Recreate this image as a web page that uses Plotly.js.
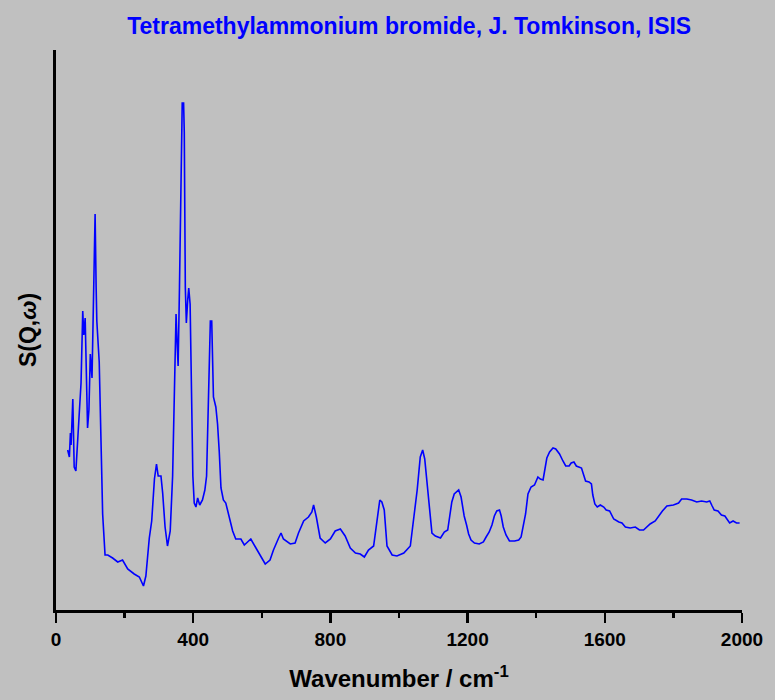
<!DOCTYPE html>
<html>
<head>
<meta charset="utf-8">
<script src="https://cdn.plot.ly/plotly-3.0.1.min.js"></script>
<style>
  html, body { margin: 0; padding: 0; background: #c0c0c0; }
  #plot { width: 775px; height: 700px; }
</style>
</head>
<body>
<div id="plot"></div>
<script>
// Wavenumber (cm^-1) and intensity (arbitrary units)
const lowWavenumber = [34, 39, 42, 44, 49, 53, 58, 63, 68, 73, 78, 81, 85, 88, 92, 96, 100, 105, 110, 114, 117, 119, 126, 131, 136, 143, 151, 165, 180, 194, 209, 228, 243, 255, 262, 272, 279, 287, 293, 298, 306, 311, 318, 325, 333, 340, 345, 350, 353, 356, 360, 364, 368, 372, 374, 377, 380, 384, 387, 391, 395, 399, 403, 408, 413, 419, 427, 434, 439, 442, 446, 450, 454, 456, 459, 466, 471, 476, 481, 488, 495, 505, 515, 524, 539, 549, 568, 583, 597];
const lowIntensity = [160, 153, 177, 165, 211, 143, 139, 165, 196, 227, 299, 275, 292, 234, 182, 200, 256, 232, 323, 396, 323, 289, 248, 169, 96, 55, 55, 52, 48, 50, 41, 36, 33, 24, 34, 72, 89, 131, 146, 134, 134, 117, 83, 64, 79, 134, 220, 296, 268, 244, 323, 420, 507, 507, 478, 323, 287, 310, 322, 306, 220, 134, 107, 103, 112, 105, 110, 120, 134, 179, 258, 289, 289, 261, 213, 203, 186, 158, 122, 110, 107, 93, 79, 71, 71, 65, 71, 62, 53];

const midWavenumber = [610, 624, 634, 649, 656, 663, 683, 697, 707, 722, 736, 746, 751, 759, 770, 785, 800, 814, 829, 843, 858, 873, 887, 899, 911, 926, 936, 944, 950, 957, 965, 980, 994, 1014, 1033, 1043, 1053, 1062, 1069, 1075, 1082, 1089, 1096, 1106, 1121];
const midIntensity = [46, 50, 60, 72, 77, 71, 66, 67, 77, 89, 93, 98, 105, 93, 72, 67, 71, 79, 81, 74, 62, 57, 56, 53, 60, 64, 93, 110, 108, 100, 64, 55, 54, 57, 64, 93, 120, 153, 160, 151, 124, 103, 77, 74, 72];

const highWavenumber = [1132, 1142, 1148, 1154, 1161, 1168, 1174, 1181, 1185, 1190, 1197, 1203, 1210, 1220, 1234, 1246, 1254, 1263, 1271, 1278, 1285, 1293, 1298, 1304, 1312, 1322, 1337, 1349, 1356, 1361, 1369, 1376, 1385, 1395, 1400, 1405, 1412, 1420, 1424, 1431, 1439, 1449, 1457, 1468, 1478, 1486, 1496, 1502, 1510, 1517, 1532, 1539, 1544];
const highIntensity = [78, 80, 94, 108, 116, 118, 120, 113, 104, 94, 85, 76, 70, 67, 66, 68, 73, 78, 85, 94, 99, 100, 94, 83, 75, 69, 69, 70, 73, 83, 96, 116, 123, 125, 130, 133, 131, 130, 138, 152, 158, 162, 161, 156, 149, 144, 144, 147, 148, 144, 142, 135, 129];

const tailWavenumber = [1554, 1561, 1565, 1571, 1578, 1587, 1597, 1604, 1614, 1619, 1626, 1641, 1650, 1660, 1674, 1689, 1701, 1713, 1723, 1732, 1747, 1757, 1768, 1781, 1800, 1815, 1824, 1839, 1853, 1868, 1882, 1897, 1906, 1913, 1919, 1930, 1940, 1950, 1957, 1964, 1974, 1984, 1993];
const tailIntensity = [128, 126, 115, 106, 103, 105, 103, 100, 99, 95, 91, 88, 87, 83, 82, 83, 80, 80, 83, 86, 89, 94, 99, 104, 105, 107, 111, 111, 110, 108, 109, 108, 109, 104, 100, 99, 95, 94, 91, 87, 89, 87, 87];

const wavenumber = lowWavenumber.concat(midWavenumber, highWavenumber, tailWavenumber);
const intensity = lowIntensity.concat(midIntensity, highIntensity, tailIntensity);

const xTickVals = [0, 400, 800, 1200, 1600, 2000];
const xTickText = ['0', '400', '800', '1200', '1600', '2000'];

const FONT = 'Liberation Sans, Arial, sans-serif';

const data = [{
  x: wavenumber,
  y: intensity,
  mode: 'lines',
  line: { color: '#0000ff', width: 1.6 },
  hoverinfo: 'skip',
  showlegend: false
}];

const layout = {
  width: 775,
  height: 700,
  margin: { l: 56, r: 33, t: 50, b: 90 },
  paper_bgcolor: '#c0c0c0',
  plot_bgcolor: '#c0c0c0',
  showlegend: false,
  hovermode: false,
  title: {
    text: '<b>Tetramethylammonium bromide, J. Tomkinson, ISIS</b>',
    font: { family: FONT, size: 23, color: '#0000ff' },
    x: 0.528,
    xref: 'container',
    xanchor: 'center',
    y: 0.963,
    yref: 'container',
    yanchor: 'middle'
  },
  xaxis: {
    range: [0, 2000],
    tickmode: 'array',
    tickvals: xTickVals,
    ticktext: xTickText,
    ticks: 'outside',
    ticklen: 10,
    tickwidth: 2.5,
    tickcolor: '#000',
    minor: { dtick: 200, ticks: 'outside', ticklen: 5, tickwidth: 2.5, tickcolor: '#000', showgrid: false },
    tickfont: { family: FONT, size: 19, color: '#000', weight: 'bold' },
    showline: true,
    linewidth: 3,
    linecolor: '#000',
    showgrid: false,
    zeroline: false,
    title: {
      text: '<b>Wavenumber / cm<sup>-1</sup></b>',
      font: { family: FONT, size: 24, color: '#000' },
      standoff: 22
    }
  },
  yaxis: {
    range: [0, 560],
    showticklabels: false,
    ticks: '',
    showline: true,
    linewidth: 3,
    linecolor: '#000',
    showgrid: false,
    zeroline: false,
    title: {
      text: '<b>S(Q,<i>ω</i>)</b>',
      font: { family: FONT, size: 23, color: '#000' },
      standoff: 10
    }
  }
};

Plotly.newPlot('plot', data, layout, { displayModeBar: false, staticPlot: true });
</script>
</body>
</html>
